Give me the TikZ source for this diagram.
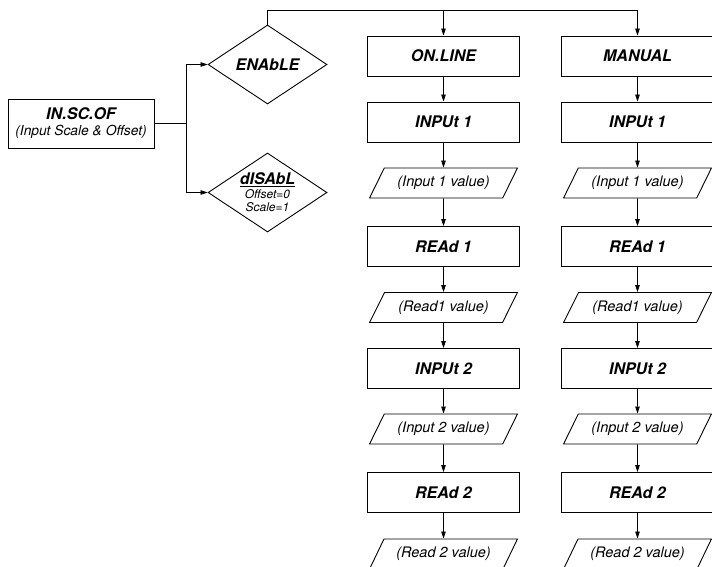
\documentclass[tikz,border=0pt]{standalone}
\usepackage{fontspec}
\setmainfont{TeX Gyre Heros}
\usetikzlibrary{shapes.geometric,arrows.meta}

\begin{document}
\begin{tikzpicture}[x=1pt,y=-1pt,
	menubox/.style={draw, line width=0.9pt, minimum width=152pt, minimum height=40pt, inner sep=0pt, font=\fontsize{16}{18}\selectfont\bfseries\itshape},
	valuebox/.style={draw, trapezium, trapezium left angle=50, trapezium right angle=130, trapezium stretches=true, minimum width=148pt, minimum height=30pt, inner sep=0pt, line width=0.9pt, font=\fontsize{14.5}{16}\selectfont\itshape},
	choice/.style={draw, diamond, aspect=1.5, minimum width=119pt, minimum height=79pt, inner sep=0pt, line width=0.9pt, align=center},
	edge_style/.style={line width=0.8pt},
	arrow_style/.style={line width=0.8pt, -{Triangle[length=7pt,width=4.5pt]}}]
	
	\clip (0,0) rectangle (712,567);
	
	\node[draw, line width=0.9pt, minimum width=146pt, minimum height=49pt, inner sep=0pt, align=center, font=\fontsize{13.8}{16}\selectfont] (src) at (81,123.5)
		{{\fontsize{16}{16}\selectfont\bfseries\itshape IN.SC.OF}\\{\itshape (Input Scale \& Offset)}};
	\node[choice, font=\fontsize{16}{18}\selectfont\bfseries\itshape] (en) at (267.5,64.5) {ENAbLE};
	\node[choice, font=\fontsize{12}{13.5}\selectfont] (dis) at (267.5,192.5)
		{{\fontsize{16}{16}\selectfont\bfseries\itshape\underline{dISAbL}}\\{\itshape Offset=0}\\{\itshape Scale=1}};
	
	\coordinate (fork) at (186,123.5);
	\coordinate (bus) at (267.5,10);
	
	\foreach \col/\cx/\head in {a/443.5/ON.LINE, b/637.5/MANUAL}{
		\node[menubox] (\col0) at (\cx,56) {\head};
		\foreach \i/\y/\s/\t in {1/122/menubox/{INPUt 1}, 2/183/valuebox/{(Input 1 value)}, 3/246.5/menubox/{REAd 1}, 4/307.5/valuebox/{(Read1 value)},
			5/368.5/menubox/{INPUt 2}, 6/429/valuebox/{(Input 2 value)}, 7/492.5/menubox/{REAd 2}, 8/554/valuebox/{(Read 2 value)}}{
			\node[\s] (\col\i) at (\cx,\y) {\t};}
	}
	
	\draw[arrow_style] (src.east) -- (fork) |- (en.west);
	\draw[arrow_style] (fork) |- (dis.west);
	\draw[arrow_style] (en.north) -- (bus) -| (b0.north);
	\draw[arrow_style] (bus -| a0.north) -- (a0.north);
	
	\foreach \col in {a,b}{
		\foreach \x/\y in {0/1,1/2,2/3,3/4,4/5,5/6,6/7,7/8}{
			\draw[arrow_style] (\col\x) -- (\col\y);}}
\end{tikzpicture}
\end{document}
